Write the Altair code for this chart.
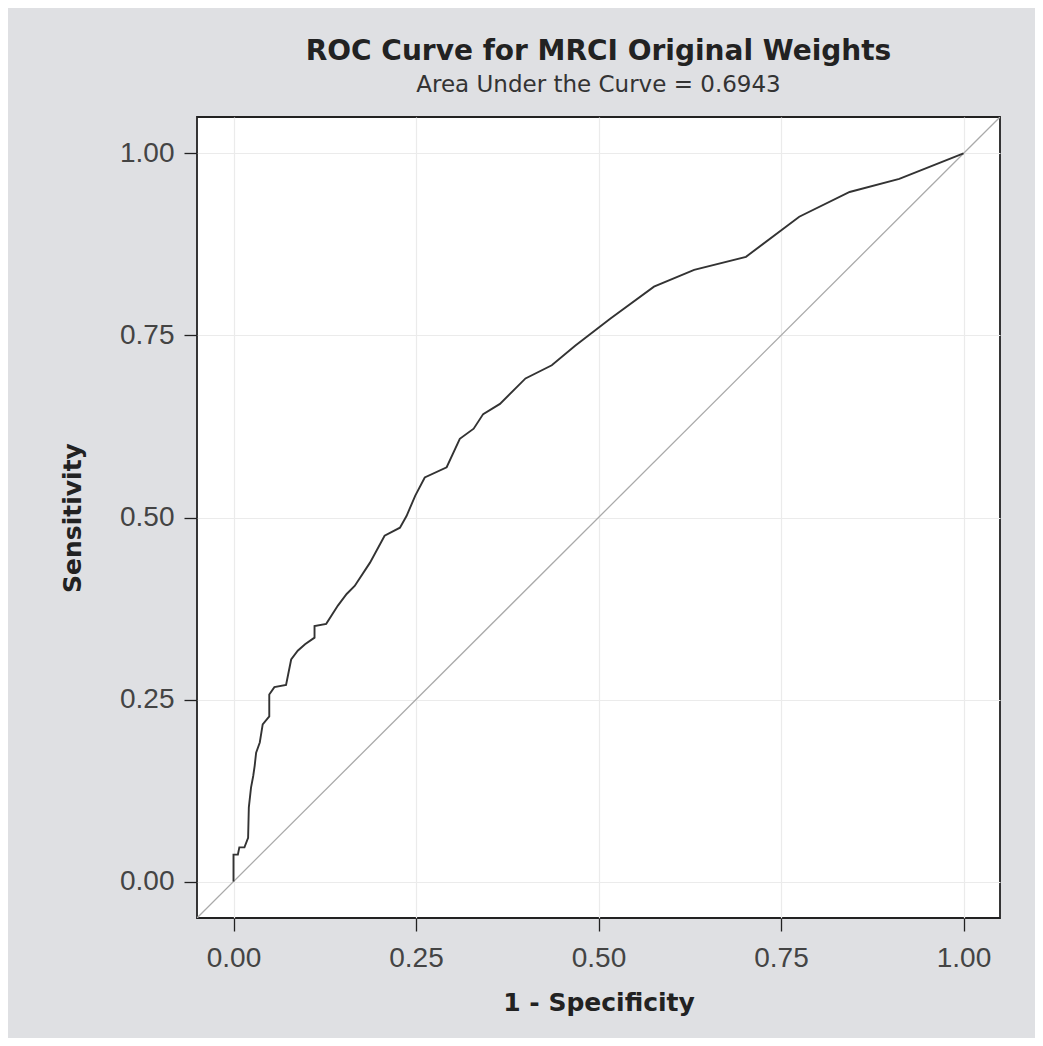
import altair as alt
import pandas as pd

fpr = [0, 0, 0.006, 0.008, 0.015, 0.020, 0.021, 0.024, 0.027, 0.029, 0.031, 0.036, 0.040,
       0.049, 0.049, 0.056, 0.072, 0.075, 0.079, 0.088, 0.098, 0.111, 0.111, 0.127, 0.143,
       0.155, 0.166, 0.187, 0.207, 0.228, 0.237, 0.249, 0.262, 0.292, 0.310, 0.329, 0.342,
       0.365, 0.400, 0.436, 0.468, 0.516, 0.576, 0.631, 0.702, 0.775, 0.844, 0.912, 1.0]
tpr = [0, 0.037, 0.037, 0.047, 0.047, 0.060, 0.102, 0.129, 0.145, 0.159, 0.177, 0.191, 0.216,
       0.227, 0.257, 0.267, 0.270, 0.285, 0.305, 0.317, 0.326, 0.335, 0.351, 0.354, 0.379,
       0.395, 0.406, 0.438, 0.475, 0.486, 0.502, 0.530, 0.555, 0.569, 0.608, 0.622, 0.642,
       0.656, 0.691, 0.709, 0.736, 0.773, 0.817, 0.840, 0.858, 0.913, 0.947, 0.965, 1.0]
ref_line = [-0.05, 1.05]
tick_vals = [0, 0.25, 0.5, 0.75, 1.0]

roc = pd.DataFrame({"fpr": fpr, "tpr": tpr, "order": list(range(len(fpr)))})
diag = pd.DataFrame({"a": ref_line, "b": ref_line})

dom = [-0.05, 1.05]
xscale = alt.Scale(domain=dom, nice=False, zero=False)
yscale = alt.Scale(domain=dom, nice=False, zero=False)
label_font = "Liberation Sans"
title_font = "DejaVu Sans"

xaxis = alt.Axis(title="1 - Specificity", values=tick_vals, format=".2f")
yaxis = alt.Axis(title="Sensitivity", values=tick_vals, format=".2f")

W, H = 803, 801

diag_layer = alt.Chart(diag).mark_line(color="#aaaaaa", strokeWidth=1.3, clip=True).encode(
    x=alt.X("a:Q", scale=xscale, axis=xaxis),
    y=alt.Y("b:Q", scale=yscale, axis=yaxis),
)
roc_layer = alt.Chart(roc).mark_line(color="#333333", strokeWidth=1.9, clip=True).encode(
    x=alt.X("fpr:Q", scale=xscale, axis=xaxis),
    y=alt.Y("tpr:Q", scale=yscale, axis=yaxis),
    order="order:Q",
)

chart = (
    alt.layer(diag_layer, roc_layer)
    .properties(
        width=W,
        height=H,
        title=alt.Title(
            "ROC Curve for MRCI Original Weights",
            subtitle="Area Under the Curve = 0.6943",
            anchor="middle",
            frame="group",
            font=title_font,
            fontSize=28,
            fontWeight="bold",
            color="#222222",
            subtitleFont=title_font,
            subtitleFontSize=23,
            subtitleColor="#333333",
            subtitlePadding=8,
            offset=20,
        ),
        autosize=alt.AutoSizeParams(type="none"),
        padding={"left": 189, "top": 109, "right": 35, "bottom": 120},
        background="#dfe0e3",
    )
    .configure_view(fill="white", stroke="#222222", strokeWidth=1.8)
    .configure_axis(
        domain=False,
        grid=True,
        gridColor="#ebebeb",
        gridWidth=1.2,
        tickColor="#222222",
        tickSize=13,
        tickWidth=1.3,
        labelFont=label_font,
        labelFontSize=28,
        labelColor="#444444",
        labelPadding=10,
        titleFont=title_font,
        titleFontSize=25,
        titleFontWeight="bold",
        titleColor="#222222",
    )
    .configure_axisX(labelPadding=13, titlePadding=18)
    .configure_axisY(titlePadding=34)
)

chart.save("out.html", embed_options={"renderer": "svg", "actions": False})
